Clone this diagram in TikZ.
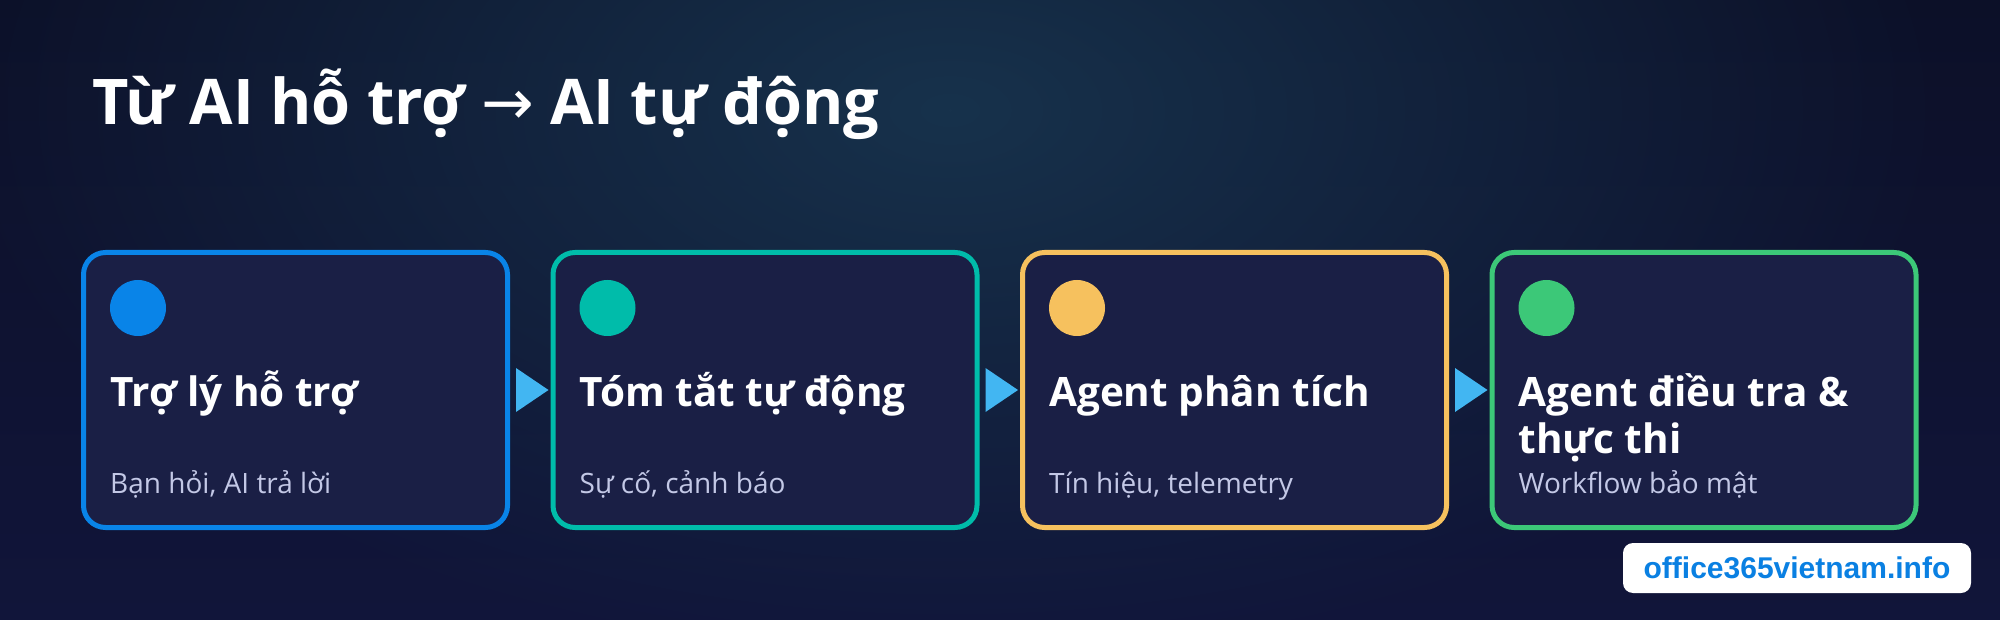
\documentclass[tikz,border=0pt]{standalone}
\usepackage{fontspec}
\setmainfont{Open Sans}
\newfontfamily\arrowfont{DejaVu Sans}
\newfontfamily\sitefont{Liberation Sans}
\usetikzlibrary{calc, fadings}
\definecolor{bgdark}{HTML}{0C1028}
\definecolor{bglow}{HTML}{11153A}
\definecolor{bgglow}{HTML}{17324C}
\definecolor{cardfill}{HTML}{1A1F45}
\definecolor{cardblue}{HTML}{0984E8}
\definecolor{cardteal}{HTML}{00BCAA}
\definecolor{cardgold}{HTML}{F6C15E}
\definecolor{cardgreen}{HTML}{3CC878}
\definecolor{arrowblue}{HTML}{42B6F2}
\definecolor{subtext}{HTML}{C3C8E6}
\definecolor{sitetext}{HTML}{0A80E2}
\tikzfading[name=glowfade, inner color=transparent!0, outer color=transparent!100]
\tikzstyle{card}=[draw, fill=cardfill, line width=5pt, rounded corners=22pt, minimum width=424pt, minimum height=275pt]
\tikzstyle{dot}=[circle, minimum size=56pt, inner sep=0pt]
\tikzstyle{heading}=[anchor=base west, inner sep=0pt, white, align=left, font=\bfseries\fontsize{40.5}{47}\selectfont]
\tikzstyle{caption}=[anchor=base west, inner sep=0pt, subtext, font=\fontsize{28}{34}\selectfont]
\tikzstyle{flow}=[fill=arrowblue]

\begin{document}
\begin{tikzpicture}[x=1pt, y=-1pt]
% Background
    \useasboundingbox (0,0) rectangle (2000,620);
    \fill[top color=bgdark, bottom color=bglow] (0,0) rectangle (2000,620);
    \begin{scope}
        \clip (0,0) rectangle (2000,620);
        \fill[bgglow, path fading=glowfade] (950,110) ellipse [x radius=1000, y radius=560];
    \end{scope}
% Title
    \node[anchor=base west, inner sep=0pt, white, font=\bfseries\fontsize{63}{70}\selectfont] (title) at (92,125) {Từ AI hỗ trợ {\arrowfont\mdseries →} AI tự động};
% Cards
    \node[card, draw=cardblue] (card1) at (295.5,390) {};
    \node[card, draw=cardteal] (card2) at (765,390) {};
    \node[card, draw=cardgold] (card3) at (1234.5,390) {};
    \node[card, draw=cardgreen] (card4) at (1704,390) {};
% Dots
    \node[dot, fill=cardblue] (dot1) at (138,308) {};
    \node[dot, fill=cardteal] (dot2) at (607.5,308) {};
    \node[dot, fill=cardgold] (dot3) at (1077,308) {};
    \node[dot, fill=cardgreen] (dot4) at (1546.5,308) {};
% Headings (two-line one sits on its last line)
    \node[heading] (head1) at (110,406) {Trợ lý hỗ trợ};
    \node[heading] (head2) at (579.5,406) {Tóm tắt tự động};
    \node[heading] (head3) at (1049,406) {Agent phân tích};
    \node[heading] (head4) at (1518.5,453) {Agent điều tra \&\\thực thi};
% Captions
    \node[caption] (cap1) at (110,493) {Bạn hỏi, AI trả lời};
    \node[caption] (cap2) at (579.5,493) {Sự cố, cảnh báo};
    \node[caption] (cap3) at (1049,493) {Tín hiệu, telemetry};
    \node[caption] (cap4) at (1518.5,493) {Workflow bảo mật};
% Flow arrows between cards
    \fill[flow] ($(card1.east)+(6,-22)$) -- ($(card2.west)+(-2,0)$) -- ($(card1.east)+(6,22)$) -- cycle;
    \fill[flow] ($(card2.east)+(6,-22)$) -- ($(card3.west)+(-2,0)$) -- ($(card2.east)+(6,22)$) -- cycle;
    \fill[flow] ($(card3.east)+(6,-22)$) -- ($(card4.west)+(-2,0)$) -- ($(card3.east)+(6,22)$) -- cycle;
% Site badge
    \node[fill=white, rounded corners=10pt, minimum width=348pt, minimum height=50pt, inner sep=0pt, text=sitetext, font=\sitefont\bfseries\fontsize{30}{34}\selectfont] (site) at (1797,568) {office365vietnam.info};
\end{tikzpicture}
\end{document}
